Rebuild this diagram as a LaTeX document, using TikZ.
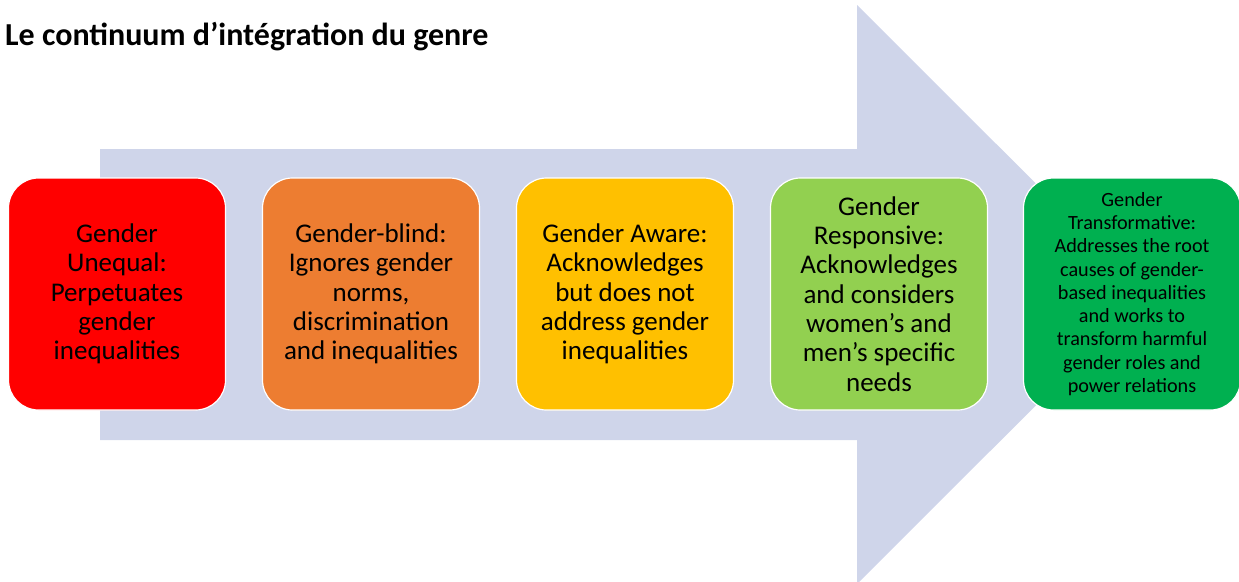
\documentclass[tikz,border=0pt]{standalone}
\usepackage{fontspec}
\setmainfont{Carlito}
\definecolor{arrowfill}{HTML}{CFD5EA}
\definecolor{cRed}{HTML}{FF0000}
\definecolor{cOrange}{HTML}{ED7D31}
\definecolor{cYellow}{HTML}{FFC000}
\definecolor{cLime}{HTML}{92D050}
\definecolor{cGreen}{HTML}{00B050}
\tikzset{
  stage/.style={draw=white, line width=1.2pt, rounded corners=30pt,
    minimum width=217pt, minimum height=232pt, inner sep=0pt,
    align=center, text=black, font=\fontsize{27}{29.3}\selectfont},
  smallstage/.style={stage, font=\fontsize{20.2}{23.3}\selectfont},
}
\begin{document}
\begin{tikzpicture}[x=1pt, y=-1pt]
  \useasboundingbox (0,0) rectangle (1239,581);
  \begin{scope}
    \clip (0,0) rectangle (1239,581);
    % large background arrow
    \fill[arrowfill] (100,149) -- (857,149) -- (857,5) -- (1147,294.5)
      -- (857,584) -- (857,440) -- (100,440) -- cycle;
    % stages of the continuum
    \node[stage, fill=cRed] (unequal) at (117,294)
      {Gender\\Unequal:\\Perpetuates\\gender\\inequalities};
    \node[stage, fill=cOrange] (blind) at (371,294)
      {Gender-blind:\\Ignores gender\\norms,\\discrimination\\and inequalities};
    \node[stage, fill=cYellow] (aware) at (625,294)
      {Gender Aware:\\Acknowledges\\but does not\\address gender\\inequalities};
    \node[stage, fill=cLime] (responsive) at (879,294)
      {Gender\\Responsive:\\Acknowledges\\and considers\\women’s and\\men’s specific\\needs};
    \node[smallstage, fill=cGreen] (transformative) at (1132,294)
      {Gender\\Transformative:\\Addresses the root\\causes of gender-\\based inequalities\\and works to\\transform harmful\\gender roles and\\power relations};
  \end{scope}
  \node[anchor=base west, inner sep=0pt, font=\fontsize{32}{36}\selectfont\bfseries] (title) at (5,45)
    {Le continuum d’intégration du genre};
\end{tikzpicture}
\end{document}
